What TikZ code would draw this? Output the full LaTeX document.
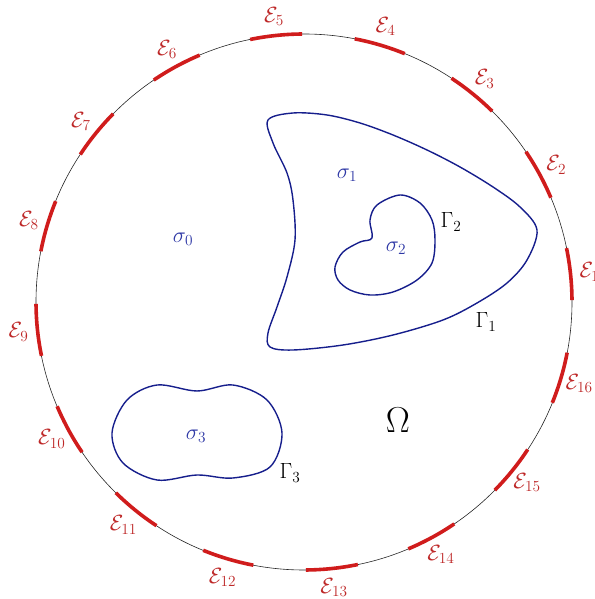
\RequirePackage{fix-cm}
\documentclass[tikz,border=0pt]{standalone}
\usetikzlibrary{calc}
\definecolor{ered}{RGB}{208,28,28}
\definecolor{lred}{RGB}{190,40,40}
\definecolor{cblue}{RGB}{22,30,140}
\definecolor{sblue}{RGB}{45,55,165}
\tikzset{
  elec/.style={ered, line width=3.6pt},
  elabel/.style={lred, inner sep=0pt, font=\fontsize{22}{26}\selectfont},
  bcurve/.style={cblue, line width=1.4pt},
  slabel/.style={sblue, inner sep=0pt, font=\fontsize{22}{26}\selectfont},
  glabel/.style={black, inner sep=0pt, font=\fontsize{22}{26}\selectfont},
}
\begin{document}
\begin{tikzpicture}[x=1pt,y=1pt]
\useasboundingbox (0,0) rectangle (594,599);
\coordinate (O) at (304,297);
\draw[line width=0.6pt, black!85] (O) circle[radius=268pt];
\foreach \k in {1,...,16}{
  \pgfmathsetmacro\a{6+22.5*(\k-1)}
  \draw[elec] ($(O)+(\a-5.6:268pt)$) arc[start angle=\a-5.6, end angle=\a+5.6, radius=268pt];
  \node[elabel] (e\k) at ($(O)+(\a:287pt)$) {$\mathcal{E}_{\k}$};
}
% Gamma_1
\draw[bcurve] plot[smooth cycle, tension=0.55] coordinates {
 (268,479) (293,486) (327,484) (360,476) (393,464) (427,449) (460,432) (493,412)
 (520,392) (537,369) (527,339) (507,316) (477,296) (443,279) (393,264) (343,254)
 (293,249) (270,252) (268,266) (277,292) (287,322) (295,359) (293,399) (287,426) (273,456)};
% Gamma_2
\draw[bcurve] plot[smooth cycle, tension=0.55] coordinates {
 (400,404) (377,394) (370,379) (372,361) (360,357) (343,347) (335,332) (338,319)
 (350,309) (370,304) (393,307) (417,319) (432,336) (435,359) (432,379) (420,396)};
% Gamma_3
\draw[bcurve] plot[smooth cycle, tension=0.55] coordinates {
 (157,214) (197,208) (233,214) (267,199) (282,166) (270,132) (233,121) (197,124)
 (157,119) (123,136) (112,166) (127,199)};
\node[slabel] (s0) at (183,360) {$\sigma_0$};
\node[slabel] (s1) at (347,424) {$\sigma_1$};
\node[slabel] (s2) at (396,351) {$\sigma_2$};
\node[slabel] (s3) at (196,163) {$\sigma_3$};
\node[glabel] (g1) at (486,277) {$\Gamma_1$};
\node[glabel] (g2) at (451,377) {$\Gamma_2$};
\node[glabel] (g3) at (290,126) {$\Gamma_3$};
\node[glabel, font=\fontsize{36}{40}\selectfont] (om) at (398,179) {$\Omega$};
\end{tikzpicture}
\end{document}
